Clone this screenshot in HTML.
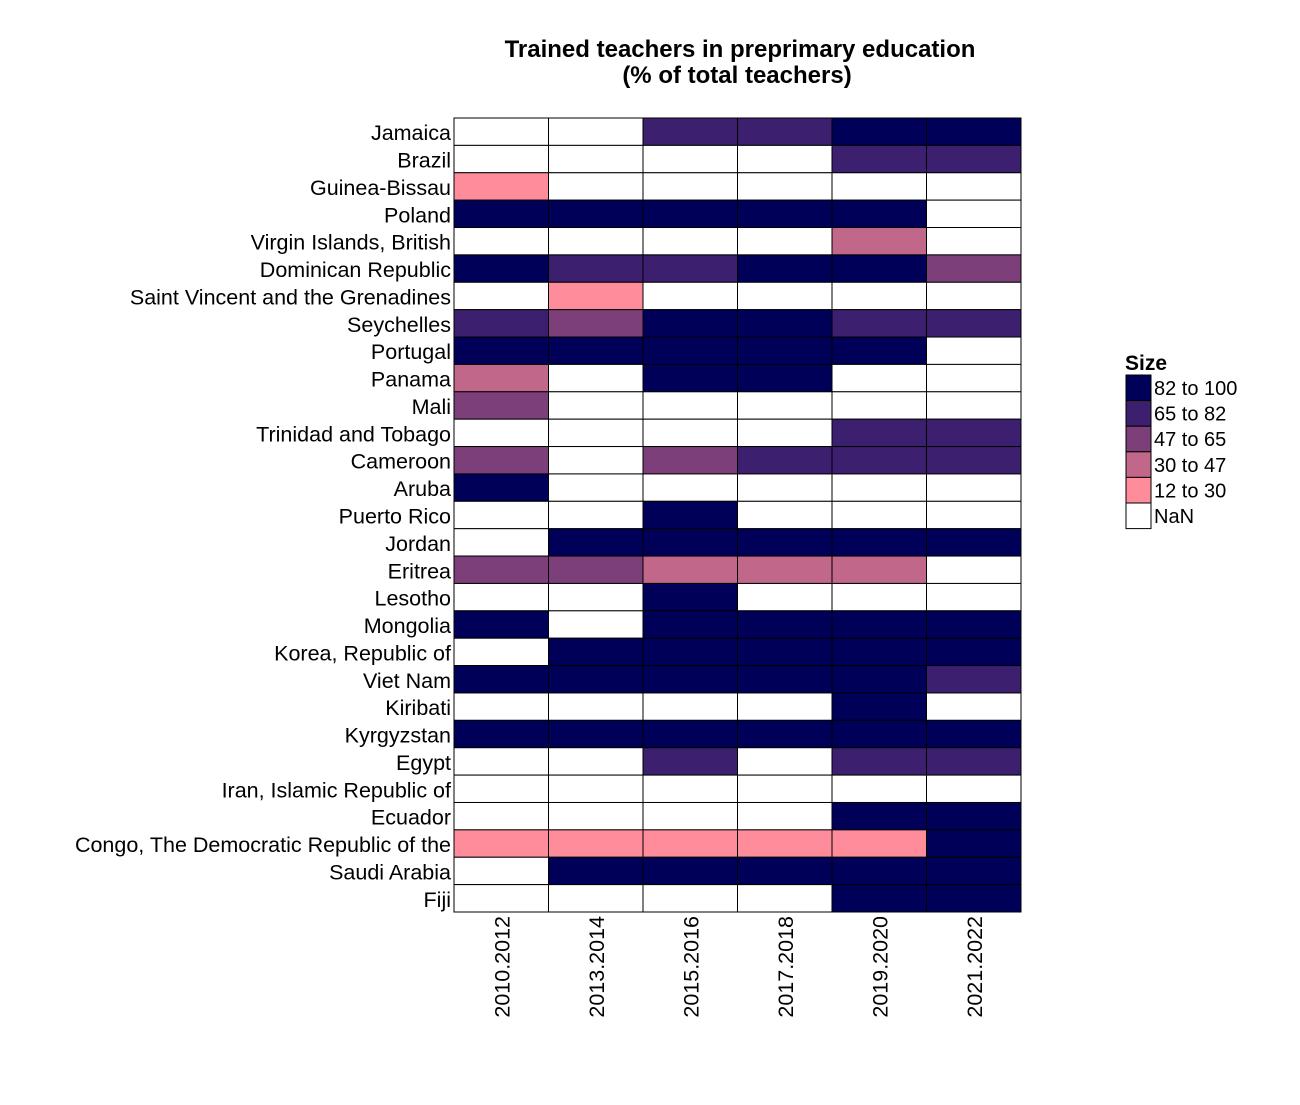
<!DOCTYPE html>
<html><head><meta charset="utf-8"><style>
body{margin:0;background:#fff;font-family:"Liberation Sans",Arial,sans-serif}
</style></head><body>
<svg id="chart" width="1300" height="1100" xmlns="http://www.w3.org/2000/svg">
<rect width="1300" height="1100" fill="#fff"/>
<text x="740" y="57" text-anchor="middle" font-size="24" font-weight="bold">Trained teachers in preprimary education</text>
<text x="737" y="83" text-anchor="middle" font-size="24" font-weight="bold">(% of total teachers)</text>
<g id="cells"></g><g id="ylab"></g><g id="xlab"></g><g id="legend"></g>
</svg>
<script>
const countries=["Jamaica","Brazil","Guinea-Bissau","Poland","Virgin Islands, British","Dominican Republic","Saint Vincent and the Grenadines","Seychelles","Portugal","Panama","Mali","Trinidad and Tobago","Cameroon","Aruba","Puerto Rico","Jordan","Eritrea","Lesotho","Mongolia","Korea, Republic of","Viet Nam","Kiribati","Kyrgyzstan","Egypt","Iran, Islamic Republic of","Ecuador","Congo, The Democratic Republic of the","Saudi Arabia","Fiji"];
const periods=["2010.2012","2013.2014","2015.2016","2017.2018","2019.2020","2021.2022"];
const N=null;
const values=[
[N,N,75,75,90,90],[N,N,N,N,75,75],[20,N,N,N,N,N],[90,90,90,90,90,N],[N,N,N,N,40,N],
[90,75,75,90,90,55],[N,20,N,N,N,N],[75,55,90,90,75,75],[90,90,90,90,90,N],[40,N,90,90,N,N],
[55,N,N,N,N,N],[N,N,N,N,75,75],[55,N,55,75,75,75],[90,N,N,N,N,N],[N,N,90,N,N,N],
[N,90,90,90,90,90],[55,55,40,40,40,N],[N,N,90,N,N,N],[90,N,90,90,90,90],[N,90,90,90,90,90],
[90,90,90,90,90,75],[N,N,N,N,90,N],[90,90,90,90,90,90],[N,N,75,N,75,75],[N,N,N,N,N,N],
[N,N,N,N,90,90],[20,20,20,20,20,90],[N,90,90,90,90,90],[N,N,N,N,90,90]];
const binLabels=["82 to 100","65 to 82","47 to 65","30 to 47","12 to 30","NaN"];
const binLows=[82,65,47,30,12];
const colors=["#000059","#3c1f6e","#7d3f7a","#c0678a","#ff8c9a","#ffffff"];
const NS="http://www.w3.org/2000/svg";
const x0=454,x1=1021,y0=118,y1=912;
const cw=(x1-x0)/periods.length, rh=(y1-y0)/countries.length;
const xPos=i=>x0+i*cw, yPos=j=>y0+j*rh;
function bin(v){if(v==null)return 5;for(let k=0;k<binLows.length;k++)if(v>=binLows[k])return k;return 4;}
function el(t,a,p){const e=document.createElementNS(NS,t);for(const k in a)e.setAttribute(k,a[k]);p.appendChild(e);return e;}
const cells=document.getElementById('cells'),yl=document.getElementById('ylab'),xl=document.getElementById('xlab'),lg=document.getElementById('legend');
countries.forEach((c,j)=>{
  periods.forEach((p,i)=>{
    const r=el('rect',{x:xPos(i),y:yPos(j),width:cw,height:rh,fill:colors[bin(values[j][i])],stroke:'#000','stroke-width':1},cells);
    
    
  });
  const t=el('text',{x:451,y:yPos(j)+rh/2+8.5,'text-anchor':'end','font-size':21.5},yl);
  t.textContent=c;
  
  
});
periods.forEach((p,i)=>{
  const cx=xPos(i)+cw/2+8;
  const t=el('text',{x:cx,y:916,'text-anchor':'end','font-size':21.5,transform:`rotate(-90 ${cx} 916)`},xl);
  t.textContent=p;
  
  
});
const st=el('text',{x:1125,y:370,'font-size':21,'font-weight':'bold'},lg);st.textContent="Size";


binLabels.forEach((b,k)=>{
  const y=375+k*25.6;
  const r=el('rect',{x:1126,y:y,width:25,height:25.6,fill:colors[k],stroke:'#000','stroke-width':1},lg);
  
  
  const t=el('text',{x:1154,y:y+20,'font-size':20},lg);t.textContent=b;
  
  
});
</script>
</body></html>
